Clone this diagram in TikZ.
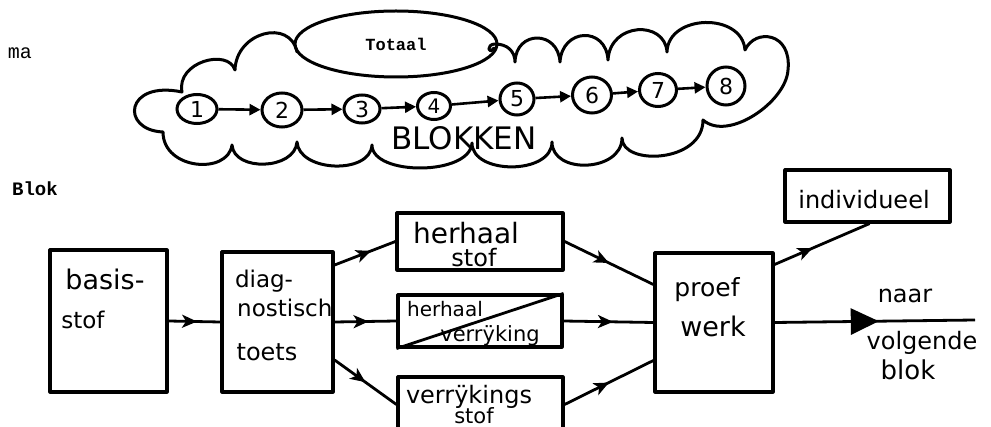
\documentclass[tikz,border=0pt]{standalone}
\usepackage{fontspec}
\setmainfont{DejaVu Sans}
\newfontfamily\tw{Liberation Mono}
\usetikzlibrary{arrows.meta,decorations.markings,shapes.geometric}
\begin{document}
\begin{tikzpicture}[x=1pt,y=-1pt,
  box/.style={draw,line width=3.2pt,rectangle,inner sep=0pt,line join=round},
  bub/.style={draw,line width=3pt,ellipse,inner sep=0pt},
  hw/.style={font=\fontsize{#1}{#1}\selectfont,inner sep=0pt},
  cloudline/.style={line width=3pt,line cap=round,line join=round},
  conn/.style={line width=2.8pt},
  midarrow/.style={conn,postaction={decorate},decoration={markings,mark=at position #1 with {\arrow{Stealth[length=15pt,width=13pt,inset=4pt]}}}},
  chainarrow/.style={line width=2.6pt,-{Triangle[length=11pt,width=11pt]}},
]
\useasboundingbox (0,0) rectangle (991,427);
\clip (0,0) rectangle (991,427);

% typewritten labels
\node[inner sep=0pt,font=\tw\fontsize{20}{20}\selectfont] (ma) at (20,53) {ma};
\node[inner sep=0pt,font=\tw\bfseries\fontsize{19}{19}\selectfont] (blk) at (35,189) {Blok};

% totaal ellipse
\node[bub,minimum width=202pt,minimum height=66pt,font=\tw\bfseries\fontsize{17}{17}\selectfont] (tot) at (396,44) {Totaal};

% cloud outline
\draw[cloudline] (182,92)
  .. controls (176,62) and (228,48) .. (235,70)
  .. controls (236,32) and (290,18) .. (297,52);
\draw[cloudline] (494,48)
  .. controls (488,56) and (486,44) .. (495,44)
  .. controls (508,44) and (515,52) .. (515,62)
  .. controls (516,30) and (558,30) .. (560,62)
  .. controls (562,28) and (606,26) .. (608,60)
  .. controls (610,22) and (665,20) .. (667,52)
  .. controls (668,14) and (742,12) .. (745,50)
  .. controls (755,28) and (792,32) .. (788,70)
  .. controls (786,102) and (728,142) .. (703,120)
  .. controls (703,163) and (622,166) .. (622,138)
  .. controls (622,172) and (552,175) .. (552,142)
  .. controls (552,175) and (472,175) .. (472,143)
  .. controls (470,176) and (372,176) .. (372,145)
  .. controls (370,175) and (299,172) .. (297,142)
  .. controls (295,170) and (234,172) .. (232,145)
  .. controls (228,175) and (163,170) .. (163,132)
  .. controls (120,130) and (125,80) .. (182,92);

% blocks chain
\node[bub,minimum width=40pt,minimum height=29pt,hw=22] (c1) at (197,109) {1};
\node[bub,minimum width=40pt,minimum height=34pt,hw=22] (c2) at (282,110) {2};
\node[bub,minimum width=36pt,minimum height=28pt,hw=22] (c3) at (362,109) {3};
\node[bub,minimum width=33pt,minimum height=27pt,hw=20] (c4) at (434,106) {4};
\node[bub,minimum width=34pt,minimum height=32pt,hw=22] (c5) at (517,99) {5};
\node[bub,minimum width=39pt,minimum height=36pt,hw=22] (c6) at (592,95) {6};
\node[bub,minimum width=37pt,minimum height=33pt,hw=22] (c7) at (658,90) {7};
\node[bub,minimum width=38pt,minimum height=38pt,hw=22] (c8) at (726,86) {8};
\draw[chainarrow] (c1) -- (c2);
\draw[chainarrow] (c2) -- (c3);
\draw[chainarrow] (c3) -- (c4);
\draw[chainarrow] (c4) -- (c5);
\draw[chainarrow] (c5) -- (c6);
\draw[chainarrow] (c6) -- (c7);
\draw[chainarrow] (c7) -- (c8);
\node[hw=31] (blokken) at (464,138) {BLOKKEN};

% lower flow boxes
\node[box,minimum width=117pt,minimum height=142pt] (basis) at (108.5,321) {};
\node[box,minimum width=111pt,minimum height=140pt] (diag) at (277.5,322) {};
\node[box,minimum width=166pt,minimum height=57pt] (hs) at (480,241.5) {};
\node[box,minimum width=164pt,minimum height=52pt] (hv) at (480,321) {};
\node[box,minimum width=165pt,minimum height=55pt] (vs) at (480.5,404.5) {};
\node[box,minimum width=118pt,minimum height=139pt] (pw) at (714,322.5) {};
\node[box,minimum width=165pt,minimum height=52pt] (ind) at (867.5,196) {};
\coordinate (out) at (975,320);

\draw[line width=2.8pt] (hv.south west) -- (hv.north east);

% box texts
\node[hw=27] (t1) at (105,279) {basis-};
\node[hw=23] (t2) at (83,320) {stof};
\node[hw=23] (t3) at (264,281) {diag-};
\node[hw=23,anchor=west] (t4) at (237,308) {nostisch};
\node[hw=24] (t5) at (267,352) {toets};
\node[hw=28] (t6) at (466,233) {herhaal};
\node[hw=24] (t7) at (474,258) {stof};
\node[hw=20] (t8) at (445,309) {herhaal};
\node[hw=21] (t9) at (490,336) {verrÿking};
\node[hw=24] (t10) at (469,397) {verrÿkings};
\node[hw=21] (t11) at (474,416) {stof};
\node[hw=25] (t12) at (707,290) {proef};
\node[hw=27] (t13) at (713,326) {werk};
\node[hw=24] (t14) at (864,200) {individueel};
\node[hw=24] (t15) at (905,296) {naar};
\node[hw=24] (t16) at (922,343) {volgende};
\node[hw=26] (t17) at (908,370) {blok};

% connectors
\draw[midarrow=0.55] (basis.east) -- (diag.west);
\draw[midarrow=0.6] ([yshift=57pt]diag.east) -- (hs.west);
\draw[midarrow=0.55] (diag.east) -- (hv.west);
\draw[midarrow=0.5] ([yshift=-38pt]diag.east) -- (vs.west);
\draw[midarrow=0.5] (hs.east) -- ([yshift=38pt]pw.west);
\draw[midarrow=0.55] (hv.east) -- (pw.west);
\draw[midarrow=0.5] (vs.east) -- ([yshift=-38pt]pw.west);
\draw[midarrow=0.4] ([yshift=58pt]pw.east) -- ([xshift=2pt]ind.south);
\draw[conn,postaction={decorate},decoration={markings,mark=at position 0.52 with {\arrow{Triangle[length=28pt,width=26pt]}}}] (pw.east) -- (out);
\end{tikzpicture}
\end{document}
